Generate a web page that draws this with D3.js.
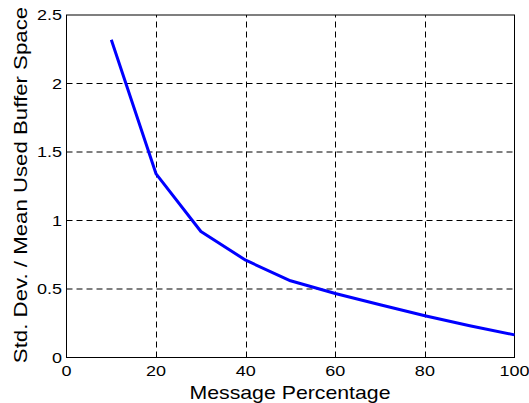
<!DOCTYPE html>
<html>
<head>
<meta charset="utf-8">
<script src="https://cdn.jsdelivr.net/npm/d3@7"></script>
<style>
  body { margin: 0; background: #fff; }
  text { font-family: "Liberation Sans", Arial, sans-serif; fill: #000; }
</style>
</head>
<body>
<div id="chart"></div>
<script>
// Data.
const percentages = [10, 20, 30, 40, 50, 60, 70, 80, 90, 100];
const ratios = [2.32, 1.34, 0.92, 0.71, 0.56, 0.467, 0.385, 0.305, 0.232, 0.165];
const xTicks = [0, 20, 40, 60, 80, 100];
const yTicks = [0, 0.5, 1, 1.5, 2, 2.5];
const xTitle = "Message Percentage";
const yTitle = "Std. Dev. / Mean Used Buffer Space";

const W = 529, H = 403;

const svg = d3.select("#chart")
  .append("svg")
  .attr("width", W)
  .attr("height", H);

// Scales (pixel ranges of the axes box).
const x = d3.scaleLinear().domain([0, 100]).range([66.5, 514.5]);
const y = d3.scaleLinear().domain([0, 2.5]).range([357.5, 15]);

// Text in the figure is a bit wider than plain Arial, stretch it.
const stretch = function (sel, k) {
  sel.each(function () {
    const len = this.getComputedTextLength();
    d3.select(this)
      .attr("textLength", len * k)
      .attr("lengthAdjust", "spacingAndGlyphs");
  });
};

// Grid lines, dashed.
svg.append("g")
  .selectAll("line")
  .data(xTicks.slice(1, -1))
  .join("line")
  .attr("x1", d => Math.round(x(d)) + 0.5)
  .attr("x2", d => Math.round(x(d)) + 0.5)
  .attr("y1", y(0))
  .attr("y2", y(2.5))
  .attr("stroke", "#000")
  .attr("stroke-width", 1)
  .attr("stroke-dasharray", "6,4");

svg.append("g")
  .selectAll("line")
  .data(yTicks.slice(1, -1))
  .join("line")
  .attr("x1", x(0))
  .attr("x2", x(100))
  .attr("y1", d => y(d))
  .attr("y2", d => y(d))
  .attr("stroke", "#000")
  .attr("stroke-width", 1)
  .attr("stroke-dasharray", "6,4");

// Axes box.
svg.append("rect")
  .attr("x", x(0))
  .attr("y", y(2.5))
  .attr("width", x(100) - x(0))
  .attr("height", y(0) - y(2.5))
  .attr("fill", "none")
  .attr("stroke", "#000")
  .attr("stroke-width", 1);

// The curve.
const line = d3.line()
  .x((d, i) => x(percentages[i]))
  .y(d => y(d));

svg.append("path")
  .datum(ratios)
  .attr("fill", "none")
  .attr("stroke", "#0000ff")
  .attr("stroke-width", 3)
  .attr("stroke-linejoin", "round")
  .attr("d", line);

// Tick labels.
svg.append("g")
  .selectAll("text")
  .data(xTicks)
  .join("text")
  .attr("x", d => x(d))
  .attr("y", 376)
  .attr("text-anchor", "middle")
  .style("font-size", "15px")
  .text(d => d)
  .call(stretch, 1.2);

svg.append("g")
  .selectAll("text")
  .data(yTicks)
  .join("text")
  .attr("x", 62)
  .attr("y", d => y(d))
  .attr("dy", "0.36em")
  .attr("text-anchor", "end")
  .style("font-size", "15px")
  .text(d => d)
  .call(stretch, 1.2);

// Axis titles.
svg.append("text")
  .attr("x", 290)
  .attr("y", 399)
  .attr("text-anchor", "middle")
  .style("font-size", "19px")
  .text(xTitle)
  .call(stretch, 1.12);

svg.append("text")
  .attr("transform", "translate(27, 185) rotate(-90)")
  .attr("text-anchor", "middle")
  .style("font-size", "19px")
  .text(yTitle)
  .call(stretch, 1.17);
</script>
</body>
</html>
